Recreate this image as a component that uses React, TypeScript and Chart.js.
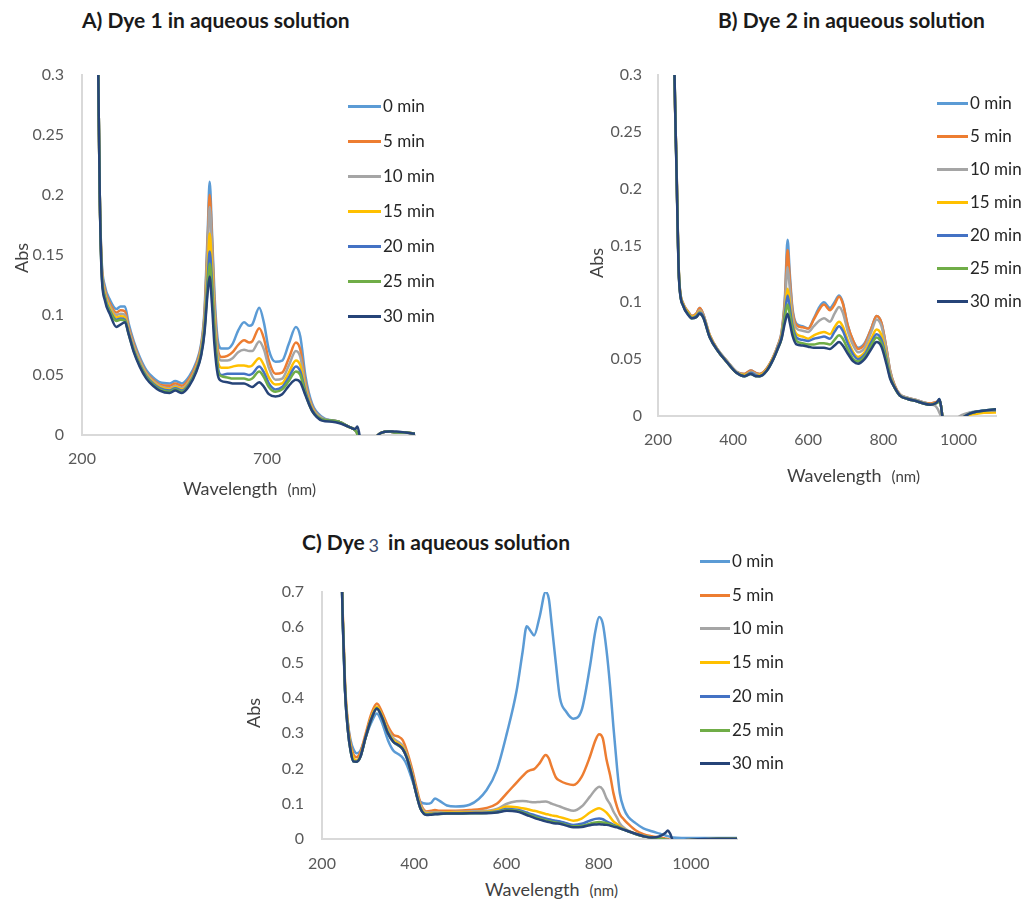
import { useEffect, useRef } from "react";
import { Chart, registerables } from "chart.js";

Chart.register(...registerables);

// Irradiation times shown in every legend, with the office-style palette
const timeLabels = ["0 min", "5 min", "10 min", "15 min", "20 min", "25 min", "30 min"];
const timeColors = ["#5B9BD5", "#ED7D31", "#A5A5A5", "#FFC000", "#4472C4", "#70AD47", "#264478"];

// ---------- A) Dye 1 ----------
const wavelengthA = [240, 244, 248, 253, 262, 275, 293, 304, 316, 326,
  340, 356, 374, 392, 410, 437, 452, 470, 490, 508,
  522, 531, 540, 545, 551, 558, 567, 577, 593, 607,
  622, 638, 652, 660, 679, 692, 705, 723, 741, 759,
  778, 790, 804, 822, 849, 876, 894, 920, 938, 944,
  950, 958, 980, 995, 1010, 1030, 1050, 1075, 1100];
const dye1Min0 = [0.40, 0.30, 0.20, 0.146, 0.124, 0.113, 0.105, 0.107, 0.107, 0.093,
  0.078, 0.065, 0.054, 0.048, 0.044, 0.043, 0.045, 0.043, 0.049, 0.060,
  0.076, 0.104, 0.172, 0.211, 0.172, 0.118, 0.079, 0.072, 0.072, 0.076,
  0.087, 0.094, 0.091, 0.092, 0.106, 0.093, 0.071, 0.061, 0.062, 0.076,
  0.090, 0.082, 0.049, 0.026, 0.015, 0.012, 0.011, 0.007, 0.004, 0.001,
  -0.01, -0.02, -0.015, -0.002, 0.002, 0.003, 0.002, 0.002, 0.001];
const dye1Min5 = [0.40, 0.30, 0.20, 0.144, 0.121, 0.110, 0.102, 0.104, 0.103, 0.090,
  0.076, 0.063, 0.052, 0.046, 0.042, 0.041, 0.043, 0.041, 0.047, 0.058,
  0.074, 0.100, 0.165, 0.200, 0.165, 0.110, 0.072, 0.065, 0.066, 0.069,
  0.075, 0.079, 0.077, 0.078, 0.089, 0.080, 0.062, 0.051, 0.052, 0.064,
  0.077, 0.071, 0.044, 0.024, 0.014, 0.012, 0.011, 0.007, 0.004, 0.001,
  -0.01, -0.02, -0.015, -0.002, 0.002, 0.003, 0.002, 0.002, 0.001];
const dye1Min10 = [0.40, 0.30, 0.20, 0.142, 0.119, 0.108, 0.100, 0.101, 0.100, 0.088,
  0.074, 0.062, 0.051, 0.045, 0.041, 0.039, 0.041, 0.039, 0.045, 0.056,
  0.072, 0.097, 0.158, 0.190, 0.158, 0.104, 0.068, 0.062, 0.062, 0.064,
  0.069, 0.071, 0.070, 0.070, 0.078, 0.071, 0.056, 0.046, 0.047, 0.058,
  0.070, 0.065, 0.041, 0.023, 0.014, 0.012, 0.011, 0.007, 0.004, 0.001,
  -0.01, -0.02, -0.015, -0.002, 0.002, 0.003, 0.002, 0.002, 0.001];
const dye1Min15 = [0.40, 0.30, 0.20, 0.140, 0.117, 0.106, 0.098, 0.099, 0.098, 0.086,
  0.072, 0.060, 0.050, 0.044, 0.040, 0.038, 0.040, 0.038, 0.044, 0.055,
  0.070, 0.092, 0.142, 0.168, 0.142, 0.095, 0.062, 0.056, 0.056, 0.057,
  0.058, 0.058, 0.057, 0.058, 0.064, 0.058, 0.048, 0.042, 0.043, 0.052,
  0.062, 0.058, 0.038, 0.022, 0.013, 0.012, 0.011, 0.007, 0.004, 0.001,
  -0.01, -0.02, -0.015, -0.002, 0.002, 0.003, 0.002, 0.002, 0.001];
const dye1Min20 = [0.40, 0.30, 0.20, 0.138, 0.115, 0.104, 0.096, 0.097, 0.096, 0.085,
  0.071, 0.059, 0.049, 0.043, 0.039, 0.037, 0.039, 0.037, 0.043, 0.054,
  0.068, 0.089, 0.132, 0.153, 0.130, 0.088, 0.057, 0.050, 0.051, 0.051,
  0.051, 0.051, 0.050, 0.051, 0.057, 0.052, 0.043, 0.038, 0.040, 0.048,
  0.057, 0.053, 0.036, 0.021, 0.013, 0.012, 0.011, 0.007, 0.004, 0.001,
  -0.01, -0.02, -0.015, -0.002, 0.002, 0.003, 0.002, 0.002, 0.001];
const dye1Min25 = [0.40, 0.30, 0.20, 0.136, 0.114, 0.103, 0.095, 0.096, 0.095, 0.084,
  0.070, 0.058, 0.048, 0.042, 0.038, 0.036, 0.038, 0.036, 0.042, 0.053,
  0.067, 0.087, 0.125, 0.143, 0.122, 0.083, 0.054, 0.049, 0.048, 0.047,
  0.047, 0.047, 0.046, 0.047, 0.053, 0.048, 0.040, 0.036, 0.038, 0.045,
  0.053, 0.050, 0.034, 0.020, 0.013, 0.012, 0.011, 0.007, 0.004, 0.001,
  -0.01, -0.02, -0.015, -0.002, 0.002, 0.003, 0.002, 0.002, 0.001];
const dye1Min30 = [0.40, 0.30, 0.20, 0.135, 0.112, 0.101, 0.090, 0.092, 0.094, 0.084,
  0.069, 0.057, 0.047, 0.041, 0.037, 0.035, 0.037, 0.035, 0.041, 0.052,
  0.066, 0.085, 0.120, 0.132, 0.110, 0.075, 0.050, 0.045, 0.044, 0.043,
  0.043, 0.043, 0.041, 0.040, 0.044, 0.040, 0.034, 0.032, 0.034, 0.041,
  0.046, 0.044, 0.033, 0.020, 0.012, 0.011, 0.010, 0.007, 0.005, 0.007,
  0.0, -0.02, -0.015, -0.002, 0.002, 0.003, 0.003, 0.002, 0.001];

// ---------- B) Dye 2 ----------
const wavelengthB = [240, 244, 249, 256, 267, 280, 290, 302, 311, 320,
  338, 360, 382, 409, 430, 447, 460, 471, 490, 507,
  520, 529, 538, 545, 551, 558, 569, 585, 600, 615,
  630, 642, 658, 670, 682, 692, 705, 720, 733, 750,
  768, 782, 795, 808, 818, 830, 844, 865, 889, 907,
  925, 938, 945, 949, 953, 958, 975, 990, 1010, 1030,
  1050, 1075, 1100];
const dye2Min0 = [0.42, 0.30, 0.225, 0.123, 0.099, 0.092, 0.088, 0.090, 0.095, 0.090,
  0.071, 0.058, 0.049, 0.039, 0.037, 0.040, 0.038, 0.037, 0.042, 0.052,
  0.063, 0.074, 0.105, 0.155, 0.125, 0.095, 0.081, 0.079, 0.077, 0.086,
  0.096, 0.100, 0.095, 0.100, 0.106, 0.100, 0.080, 0.066, 0.060, 0.064,
  0.077, 0.088, 0.082, 0.060, 0.040, 0.027, 0.019, 0.016, 0.014, 0.012,
  0.011, 0.012, 0.013, 0.015, 0.010, -0.002, -0.02, -0.01, -0.001, 0.003,
  0.004, 0.005, 0.006];
const dye2Min5 = [0.42, 0.30, 0.225, 0.123, 0.099, 0.092, 0.088, 0.090, 0.095, 0.090,
  0.071, 0.058, 0.049, 0.039, 0.037, 0.040, 0.038, 0.037, 0.042, 0.052,
  0.063, 0.073, 0.102, 0.146, 0.120, 0.093, 0.080, 0.078, 0.077, 0.085,
  0.094, 0.098, 0.093, 0.098, 0.105, 0.099, 0.080, 0.066, 0.059, 0.063,
  0.077, 0.088, 0.082, 0.060, 0.040, 0.027, 0.019, 0.016, 0.014, 0.012,
  0.011, 0.012, 0.013, 0.014, 0.010, -0.002, -0.02, -0.01, -0.001, 0.002,
  0.003, 0.003, 0.004];
const dye2Min10 = [0.42, 0.30, 0.224, 0.122, 0.098, 0.091, 0.087, 0.089, 0.093, 0.089,
  0.070, 0.058, 0.049, 0.039, 0.036, 0.039, 0.037, 0.036, 0.041, 0.051,
  0.062, 0.071, 0.098, 0.131, 0.112, 0.089, 0.077, 0.075, 0.074, 0.079,
  0.084, 0.086, 0.083, 0.090, 0.096, 0.091, 0.075, 0.062, 0.056, 0.060,
  0.074, 0.085, 0.079, 0.058, 0.039, 0.026, 0.019, 0.016, 0.014, 0.012,
  0.010, 0.009, 0.006, 0.003, 0.0, -0.01, -0.02, -0.005, 0.001, 0.003,
  0.004, 0.004, 0.004];
const dye2Min15 = [0.42, 0.30, 0.223, 0.122, 0.098, 0.091, 0.087, 0.089, 0.092, 0.088,
  0.070, 0.057, 0.048, 0.038, 0.036, 0.038, 0.036, 0.036, 0.041, 0.051,
  0.061, 0.070, 0.093, 0.112, 0.100, 0.083, 0.072, 0.070, 0.068, 0.071,
  0.073, 0.074, 0.072, 0.078, 0.083, 0.079, 0.067, 0.056, 0.052, 0.056,
  0.068, 0.076, 0.071, 0.053, 0.036, 0.025, 0.018, 0.015, 0.013, 0.011,
  0.010, 0.011, 0.012, 0.014, 0.010, -0.002, -0.02, -0.01, -0.002, 0.001,
  0.002, 0.003, 0.003];
const dye2Min20 = [0.42, 0.30, 0.222, 0.121, 0.097, 0.090, 0.086, 0.088, 0.091, 0.088,
  0.069, 0.057, 0.048, 0.038, 0.035, 0.038, 0.036, 0.035, 0.040, 0.050,
  0.061, 0.069, 0.090, 0.106, 0.095, 0.080, 0.069, 0.067, 0.066, 0.068,
  0.069, 0.070, 0.068, 0.074, 0.079, 0.075, 0.064, 0.054, 0.050, 0.054,
  0.065, 0.072, 0.067, 0.051, 0.035, 0.025, 0.018, 0.015, 0.013, 0.011,
  0.010, 0.011, 0.012, 0.014, 0.010, -0.002, -0.02, -0.01, -0.002, 0.002,
  0.004, 0.005, 0.005];
const dye2Min25 = [0.42, 0.30, 0.221, 0.121, 0.097, 0.090, 0.086, 0.087, 0.090, 0.087,
  0.069, 0.057, 0.048, 0.038, 0.035, 0.037, 0.035, 0.035, 0.040, 0.050,
  0.060, 0.068, 0.087, 0.098, 0.089, 0.076, 0.066, 0.064, 0.063, 0.063,
  0.064, 0.064, 0.063, 0.067, 0.071, 0.068, 0.059, 0.050, 0.048, 0.052,
  0.062, 0.069, 0.064, 0.049, 0.034, 0.025, 0.018, 0.015, 0.013, 0.011,
  0.010, 0.011, 0.012, 0.014, 0.010, -0.002, -0.02, -0.01, -0.002, 0.002,
  0.004, 0.005, 0.006];
const dye2Min30 = [0.42, 0.30, 0.220, 0.120, 0.097, 0.089, 0.086, 0.087, 0.090, 0.087,
  0.069, 0.057, 0.048, 0.038, 0.035, 0.037, 0.035, 0.035, 0.040, 0.050,
  0.060, 0.068, 0.082, 0.090, 0.082, 0.071, 0.063, 0.062, 0.061, 0.060,
  0.060, 0.060, 0.059, 0.062, 0.065, 0.062, 0.055, 0.048, 0.046, 0.050,
  0.059, 0.065, 0.061, 0.046, 0.033, 0.025, 0.018, 0.015, 0.013, 0.011,
  0.010, 0.011, 0.013, 0.015, 0.010, -0.002, -0.02, -0.01, -0.002, 0.002,
  0.004, 0.005, 0.006];

// ---------- C) Dye 3 ----------
const wavelengthC = [240, 245, 250, 256, 262, 268, 275, 283, 295, 307,
  319, 330, 343, 355, 366, 375, 384, 395, 405, 414,
  427, 437, 445, 455, 471, 490, 520, 557, 579, 601,
  622, 635, 644, 652, 660, 672, 685, 692, 698, 707,
  716, 730, 745, 763, 781, 793, 801, 809, 817, 825,
  832, 840, 846, 855, 864, 880, 897, 915, 933, 945,
  950, 955, 962, 980, 1000, 1030, 1060, 1100];
const dye3Min0 = [0.90, 0.62, 0.42, 0.33, 0.28, 0.255, 0.243, 0.25, 0.29, 0.33,
  0.356, 0.33, 0.28, 0.25, 0.24, 0.23, 0.21, 0.17, 0.13, 0.105,
  0.10, 0.103, 0.115, 0.108, 0.095, 0.092, 0.097, 0.139, 0.195, 0.30,
  0.42, 0.53, 0.603, 0.59, 0.577, 0.63, 0.70, 0.68, 0.61, 0.50,
  0.40, 0.36, 0.341, 0.365, 0.488, 0.59, 0.629, 0.61, 0.535, 0.43,
  0.318, 0.20, 0.129, 0.085, 0.063, 0.045, 0.030, 0.022, 0.015, 0.010,
  0.008, 0.006, 0.004, 0.003, 0.003, 0.003, 0.003, 0.003];
const dye3Min5 = [0.90, 0.64, 0.44, 0.33, 0.27, 0.24, 0.232, 0.245, 0.30, 0.355,
  0.384, 0.36, 0.32, 0.295, 0.29, 0.28, 0.25, 0.20, 0.145, 0.10,
  0.078, 0.080, 0.082, 0.080, 0.080, 0.080, 0.082, 0.088, 0.10, 0.13,
  0.16, 0.178, 0.19, 0.195, 0.198, 0.215, 0.238, 0.228, 0.205, 0.175,
  0.165, 0.157, 0.153, 0.176, 0.233, 0.28, 0.297, 0.285, 0.225, 0.18,
  0.13, 0.09, 0.07, 0.055, 0.043, 0.025, 0.014, 0.008, 0.004, 0.001,
  0.0, -0.003, -0.005, -0.004, -0.003, -0.002, 0.0, 0.001];
const dye3Min10 = [0.90, 0.63, 0.43, 0.32, 0.26, 0.23, 0.222, 0.235, 0.29, 0.345,
  0.375, 0.35, 0.31, 0.285, 0.275, 0.265, 0.24, 0.19, 0.135, 0.095,
  0.075, 0.075, 0.076, 0.076, 0.076, 0.077, 0.078, 0.080, 0.085, 0.100,
  0.107, 0.108, 0.107, 0.105, 0.104, 0.105, 0.106, 0.104, 0.100, 0.096,
  0.092, 0.085, 0.080, 0.092, 0.120, 0.140, 0.148, 0.140, 0.115, 0.098,
  0.078, 0.060, 0.044, 0.032, 0.024, 0.015, 0.009, 0.004, 0.001, -0.002,
  -0.003, -0.004, -0.005, -0.004, -0.003, -0.002, 0.0, 0.001];
const dye3Min15 = [0.90, 0.63, 0.43, 0.32, 0.26, 0.23, 0.222, 0.235, 0.29, 0.345,
  0.375, 0.35, 0.305, 0.28, 0.27, 0.26, 0.235, 0.185, 0.13, 0.09,
  0.072, 0.073, 0.074, 0.074, 0.075, 0.075, 0.076, 0.077, 0.082, 0.092,
  0.090, 0.087, 0.085, 0.082, 0.080, 0.076, 0.071, 0.069, 0.067, 0.065,
  0.062, 0.057, 0.052, 0.058, 0.075, 0.084, 0.087, 0.083, 0.075, 0.062,
  0.050, 0.042, 0.035, 0.028, 0.022, 0.015, 0.008, 0.004, 0.001, -0.002,
  -0.003, -0.004, -0.005, -0.004, -0.003, -0.001, 0.001, 0.002];
const dye3Min20 = [0.90, 0.62, 0.42, 0.31, 0.25, 0.22, 0.219, 0.232, 0.29, 0.34,
  0.37, 0.345, 0.30, 0.275, 0.265, 0.255, 0.23, 0.18, 0.125, 0.085,
  0.070, 0.071, 0.072, 0.072, 0.073, 0.073, 0.074, 0.075, 0.078, 0.085,
  0.083, 0.079, 0.075, 0.071, 0.068, 0.063, 0.058, 0.056, 0.054, 0.052,
  0.050, 0.045, 0.040, 0.043, 0.052, 0.057, 0.058, 0.056, 0.050, 0.045,
  0.040, 0.036, 0.032, 0.027, 0.022, 0.014, 0.008, 0.004, 0.001, -0.002,
  -0.003, -0.004, -0.005, -0.004, -0.003, -0.001, 0.001, 0.001];
const dye3Min25 = [0.90, 0.62, 0.42, 0.31, 0.25, 0.22, 0.219, 0.232, 0.29, 0.34,
  0.37, 0.345, 0.30, 0.275, 0.265, 0.255, 0.23, 0.18, 0.125, 0.085,
  0.069, 0.070, 0.071, 0.071, 0.072, 0.072, 0.073, 0.074, 0.076, 0.082,
  0.080, 0.075, 0.071, 0.067, 0.063, 0.058, 0.053, 0.051, 0.049, 0.047,
  0.045, 0.040, 0.036, 0.037, 0.043, 0.047, 0.048, 0.047, 0.045, 0.041,
  0.038, 0.035, 0.031, 0.026, 0.022, 0.014, 0.008, 0.004, 0.001, -0.002,
  -0.003, -0.004, -0.005, -0.004, -0.003, -0.001, 0.001, 0.001];
const dye3Min30 = [0.90, 0.62, 0.42, 0.31, 0.25, 0.22, 0.219, 0.232, 0.29, 0.34,
  0.37, 0.345, 0.30, 0.275, 0.266, 0.255, 0.23, 0.18, 0.125, 0.085,
  0.068, 0.069, 0.070, 0.071, 0.072, 0.072, 0.073, 0.073, 0.075, 0.080,
  0.078, 0.073, 0.068, 0.064, 0.060, 0.055, 0.050, 0.048, 0.046, 0.044,
  0.043, 0.038, 0.033, 0.034, 0.039, 0.041, 0.042, 0.041, 0.040, 0.038,
  0.035, 0.033, 0.030, 0.026, 0.022, 0.015, 0.008, 0.004, 0.008, 0.018,
  0.024, 0.015, -0.005, -0.004, -0.002, 0.0, 0.001, 0.001];

// Axis ticks
const xTicksA = [200, 700];
const xTicksBC = [200, 400, 600, 800, 1000];
const yTicksAB = [0, 0.05, 0.1, 0.15, 0.2, 0.25, 0.3];
const yTicksC = [0, 0.1, 0.2, 0.3, 0.4, 0.5, 0.6, 0.7];

const FONT = "Lato, 'Open Sans', sans-serif";
const TICK_COLOR = "#595959";
const AXIS_COLOR = "#D9D9D9";
const Y_AXIS_W = 60;
const X_AXIS_H = 30;

type Box = { left: number; top: number; width: number; height: number };
type Area = { left: number; top: number; right: number; bottom: number };

type SpectrumProps = {
  box: Box;
  area: Area; // plot area, canvas coordinates
  wavelengths: number[];
  series: number[][];
  xTicks: number[];
  yTicks: number[];
  yMax: number;
  yLabelPad: number;
  xLabelPad: number;
};

function SpectrumChart(props: SpectrumProps) {
  const ref = useRef<HTMLCanvasElement | null>(null);
  useEffect(() => {
    const { box, area, wavelengths, series, xTicks, yTicks, yMax, yLabelPad, xLabelPad } = props;
    if (!ref.current) return;
    const n = series.length;
    const chart = new Chart(ref.current, {
      type: "line",
      data: {
        datasets: series.map((vals, i) => ({
          label: timeLabels[i],
          data: wavelengths.map((x, j) => ({ x, y: vals[j] })),
          borderColor: timeColors[i],
          backgroundColor: timeColors[i],
          borderWidth: 2.5,
          pointRadius: 0,
          fill: false,
          cubicInterpolationMode: "monotone" as const,
          order: n - 1 - i,
        })),
      },
      options: {
        responsive: false,
        animation: false,
        events: [],
        layout: {
          padding: {
            left: area.left - Y_AXIS_W,
            top: area.top,
            right: box.width - area.right,
            bottom: box.height - area.bottom - X_AXIS_H,
          },
        },
        plugins: {
          legend: { display: false },
          tooltip: { enabled: false },
          title: { display: false },
        },
        scales: {
          x: {
            type: "linear",
            min: 200,
            max: 1100,
            afterBuildTicks: (s: any) => {
              s.ticks = xTicks.map((v) => ({ value: v }));
            },
            afterFit: (s: any) => {
              s.height = X_AXIS_H;
            },
            grid: { display: true, drawOnChartArea: false, drawTicks: false },
            border: { display: true, color: AXIS_COLOR, width: 2 },
            ticks: {
              autoSkip: false,
              maxRotation: 0,
              padding: xLabelPad,
              color: TICK_COLOR,
              font: { family: FONT, size: 16 },
              callback: (v: any) => String(v),
            },
          },
          y: {
            type: "linear",
            min: 0,
            max: yMax,
            afterBuildTicks: (s: any) => {
              s.ticks = yTicks.map((v) => ({ value: v }));
            },
            afterFit: (s: any) => {
              s.width = Y_AXIS_W;
            },
            grid: { display: true, drawOnChartArea: false, drawTicks: false },
            border: { display: true, color: AXIS_COLOR, width: 2 },
            ticks: {
              autoSkip: false,
              padding: yLabelPad,
              color: TICK_COLOR,
              font: { family: FONT, size: 16 },
              callback: (v: any) => String(v),
            },
          },
        },
      },
    });
    return () => chart.destroy();
  }, []);
  const { box } = props;
  return (
    <canvas
      ref={ref}
      width={box.width}
      height={box.height}
      style={{ position: "absolute", left: box.left, top: box.top, width: box.width, height: box.height }}
    />
  );
}

function Legend({ lineX0, lineX1, rows }: { lineX0: number; lineX1: number; rows: number[] }) {
  return (
    <>
      {timeLabels.map((label, i) => (
        <div key={label} style={{ position: "absolute", left: lineX0, top: rows[i] - 11, height: 22, display: "flex", alignItems: "center", whiteSpace: "nowrap" }}>
          <div style={{ width: lineX1 - lineX0, height: 3, background: timeColors[i] }} />
          <span style={{ marginLeft: 2, fontFamily: FONT, fontSize: 17, color: "#262626", lineHeight: "22px" }}>{label}</span>
        </div>
      ))}
    </>
  );
}

function Title({ x, y, children }: { x: number; y: number; children: any }) {
  return (
    <div style={{ position: "absolute", left: x, top: y - 13, height: 26, lineHeight: "26px", fontFamily: FONT, fontWeight: 700, fontSize: 21, color: "#1a1a1a", whiteSpace: "nowrap" }}>
      {children}
    </div>
  );
}

function XTitle({ x, y }: { x: number; y: number }) {
  return (
    <div style={{ position: "absolute", left: x, top: y - 12, height: 24, lineHeight: "24px", fontFamily: FONT, fontSize: 18, color: "#404040", whiteSpace: "nowrap" }}>
      Wavelength<span style={{ fontSize: 15, marginLeft: 10 }}>(nm)</span>
    </div>
  );
}

function YTitle({ x, y }: { x: number; y: number }) {
  return (
    <div style={{ position: "absolute", left: x - 20, top: y - 12, width: 40, height: 24, lineHeight: "24px", textAlign: "center", transform: "rotate(-90deg)", fontFamily: FONT, fontSize: 18, color: "#404040" }}>
      Abs
    </div>
  );
}

export default function App() {
  return (
    <div style={{ position: "absolute", left: 0, top: 0, width: 1026, height: 902, background: "#fff", overflow: "hidden" }}>
      <Title x={82} y={20}>A) Dye 1 in aqueous solution</Title>
      <SpectrumChart
        box={{ left: 0, top: 30, width: 450, height: 450 }}
        area={{ left: 82, top: 45, right: 415, bottom: 405 }}
        wavelengths={wavelengthA}
        series={[dye1Min0, dye1Min5, dye1Min10, dye1Min15, dye1Min20, dye1Min25, dye1Min30]}
        xTicks={xTicksA}
        yTicks={yTicksAB}
        yMax={0.3}
        yLabelPad={18}
        xLabelPad={14}
      />
      <Legend lineX0={348} lineX1={381} rows={[106, 141, 176, 211, 246, 281, 316]} />
      <YTitle x={21} y={258} />
      <XTitle x={183} y={488} />

      <Title x={718} y={20}>B) Dye 2 in aqueous solution</Title>
      <SpectrumChart
        box={{ left: 520, top: 30, width: 500, height: 450 }}
        area={{ left: 138, top: 45, right: 476, bottom: 386 }}
        wavelengths={wavelengthB}
        series={[dye2Min0, dye2Min5, dye2Min10, dye2Min15, dye2Min20, dye2Min25, dye2Min30]}
        xTicks={xTicksBC}
        yTicks={yTicksAB}
        yMax={0.3}
        yLabelPad={16}
        xLabelPad={14}
      />
      <Legend lineX0={937} lineX1={968} rows={[103, 136, 169, 202, 235, 268, 301]} />
      <YTitle x={596} y={263} />
      <XTitle x={787} y={475} />

      <Title x={302} y={542}>
        C) Dye<span style={{ fontWeight: 400, fontSize: 18, color: "#3a4a6a", margin: "0 9px 0 4px", position: "relative", top: 2 }}>3</span>in aqueous solution
      </Title>
      <SpectrumChart
        box={{ left: 260, top: 545, width: 500, height: 325 }}
        area={{ left: 62, top: 47, right: 477, bottom: 294 }}
        wavelengths={wavelengthC}
        series={[dye3Min0, dye3Min5, dye3Min10, dye3Min15, dye3Min20, dye3Min25, dye3Min30]}
        xTicks={xTicksBC}
        yTicks={yTicksC}
        yMax={0.7}
        yLabelPad={18}
        xLabelPad={15}
      />
      <Legend lineX0={700} lineX1={730} rows={[561, 595, 628, 662, 696, 730, 763]} />
      <YTitle x={253} y={713} />
      <XTitle x={485} y={889} />
    </div>
  );
}
